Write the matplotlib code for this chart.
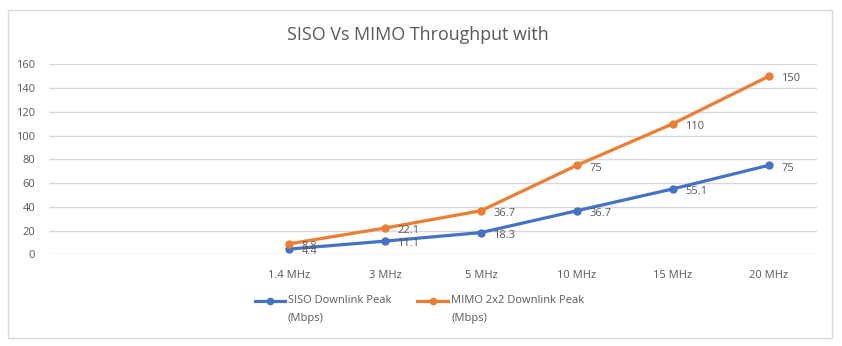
import matplotlib
matplotlib.use("Agg")
import matplotlib.pyplot as plt
from matplotlib.lines import Line2D
from matplotlib.patches import Rectangle

# Category axis: two leading empty slots, then the channel bandwidths
categories = ["", "", "1.4 MHz", "3 MHz", "5 MHz", "10 MHz", "15 MHz", "20 MHz"]
bandwidths = ["1.4 MHz", "3 MHz", "5 MHz", "10 MHz", "15 MHz", "20 MHz"]
siso_peak = [4.4, 11.1, 18.3, 36.7, 55.1, 75]
mimo_peak = [8.8, 22.1, 36.7, 75, 110, 150]
y_ticks = [0, 20, 40, 60, 80, 100, 120, 140, 160]

title = "SISO Vs MIMO Throughput with"
siso_label = ["SISO Downlink Peak", "(Mbps)"]
mimo_label = ["MIMO 2x2 Downlink Peak", "(Mbps)"]

BLUE = "#4472C4"
ORANGE = "#ED7D31"
TEXT = "#595959"
GRID = "#D9D9D9"
FONT = ["Open Sans", "DejaVu Sans"]

plt.rcParams["font.family"] = FONT

W, H = 842, 346
fig = plt.figure(figsize=(W / 100, H / 100), dpi=100)

def fx(px):
    return px / W

def fy(py):
    return 1 - py / H

# Chart area border
fig.patches.append(Rectangle((fx(8), fy(338)), fx(832) - fx(8), fy(10) - fy(338),
                             transform=fig.transFigure, fill=False,
                             edgecolor=GRID, linewidth=1.0))

left, right, top, bottom = 49, 817, 64.3, 254.3
ax = fig.add_axes([fx(left), fy(bottom), fx(right) - fx(left), fy(top) - fy(bottom)])

idx = {c: i for i, c in enumerate(categories) if c}
xs = [idx[b] for b in bandwidths]

ax.plot(xs, siso_peak, color=BLUE, lw=2.3, marker="o", ms=5, zorder=3)
ax.plot(xs, mimo_peak, color=ORANGE, lw=2.3, marker="o", ms=5, zorder=3)

for x, v in zip(xs, siso_peak):
    ax.annotate(f"{v:g}", (x, v), xytext=(9, -2), textcoords="offset points",
                ha="left", va="center", fontsize=8, color=TEXT, zorder=4)
for x, v in zip(xs, mimo_peak):
    ax.annotate(f"{v:g}", (x, v), xytext=(9, -2), textcoords="offset points",
                ha="left", va="center", fontsize=8, color=TEXT, zorder=4)

ax.set_xlim(-0.5, len(categories) - 0.5)
ax.set_ylim(0, 160)
ax.set_yticks(y_ticks)
ax.set_xticks(range(len(categories)))
ax.set_xticklabels(categories)
ax.yaxis.grid(True, color=GRID, linewidth=1.0)
ax.set_axisbelow(True)
for s in ax.spines.values():
    s.set_visible(False)
ax.tick_params(axis="both", length=0, labelsize=8, labelcolor=TEXT)
ax.tick_params(axis="y", pad=10)
ax.tick_params(axis="x", pad=11)

fig.text(fx(418), fy(35), title, ha="center", va="center", fontsize=12.9,
         color=TEXT)

# Legend, handle on the first line of each wrapped label
for (x0, x1, tx), lab, col in [((255, 285, 288), siso_label, BLUE),
                               ((417, 448, 451), mimo_label, ORANGE)]:
    fig.add_artist(Line2D([fx(x0), fx(x1)], [fy(300.5), fy(300.5)], color=col,
                          lw=2.3, transform=fig.transFigure))
    fig.add_artist(Line2D([fx((x0 + x1) / 2)], [fy(300.5)], color=col, marker="o",
                          ms=4.5, transform=fig.transFigure))
    fig.text(fx(tx), fy(300.5), lab[0], ha="left", va="center", fontsize=8,
             color=TEXT)
    fig.text(fx(tx), fy(318), lab[1], ha="left", va="center", fontsize=8,
             color=TEXT)

fig.savefig("out.png", dpi=100, facecolor="white")
